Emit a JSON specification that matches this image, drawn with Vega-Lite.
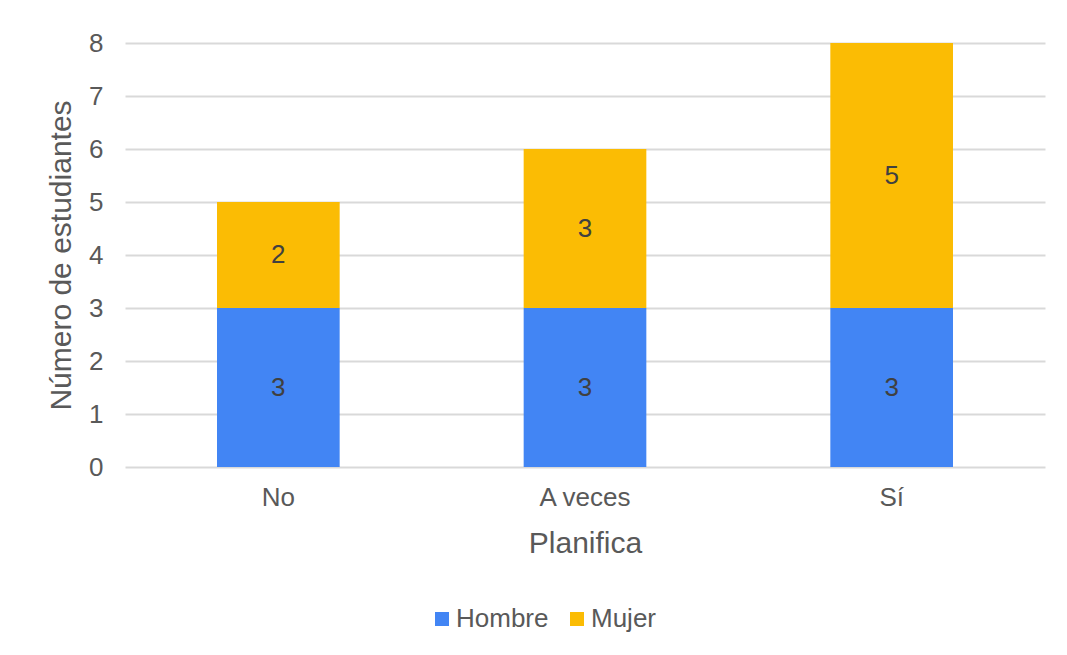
{
  "$schema": "https://vega.github.io/schema/vega-lite/v6.json",
  "autosize": "none",
  "width": 920,
  "height": 424,
  "padding": {"left": 125, "top": 43, "right": 22, "bottom": 188},
  "background": "white",
  "data": {
    "values": [
      {"planifica": "No", "sexo": "Hombre", "n": 3},
      {"planifica": "No", "sexo": "Mujer", "n": 2},
      {"planifica": "A veces", "sexo": "Hombre", "n": 3},
      {"planifica": "A veces", "sexo": "Mujer", "n": 3},
      {"planifica": "Sí", "sexo": "Hombre", "n": 3},
      {"planifica": "Sí", "sexo": "Mujer", "n": 5}
    ]
  },
  "encoding": {
    "x": {
      "field": "planifica",
      "type": "nominal",
      "sort": ["No", "A veces", "Sí"],
      "scale": {"paddingInner": 0.6, "paddingOuter": 0.3},
      "axis": {
        "title": "Planifica",
        "labelAngle": 0,
        "labelPadding": 17,
        "titlePadding": 18,
        "domain": false,
        "ticks": false
      }
    },
    "order": {"field": "sexo", "sort": "ascending"}
  },
  "layer": [
    {
      "mark": {"type": "bar"},
      "encoding": {
        "y": {
          "field": "n",
          "type": "quantitative",
          "stack": "zero",
          "scale": {"domain": [0, 8], "nice": false},
          "axis": {
            "title": "Número de estudiantes",
            "values": [0, 1, 2, 3, 4, 5, 6, 7, 8],
            "labelOverlap": false,
            "labelPadding": 22,
            "titlePadding": 12,
            "domain": false,
            "ticks": false
          }
        },
        "color": {
          "field": "sexo",
          "type": "nominal",
          "scale": {"domain": ["Hombre", "Mujer"], "range": ["#4285F4", "#FBBC04"]},
          "legend": {
            "title": null,
            "orient": "none",
            "direction": "horizontal",
            "legendX": 304,
            "legendY": 563,
            "symbolType": "square",
            "symbolSize": 196,
            "symbolStrokeWidth": 0,
            "labelOffset": 1,
            "columnPadding": 15,
            "padding": 0
          }
        }
      }
    },
    {
      "mark": {"type": "text", "fontSize": 26, "font": "Liberation Sans", "color": "#404040", "baseline": "middle"},
      "encoding": {
        "y": {
          "field": "n",
          "type": "quantitative",
          "stack": "zero",
          "bandPosition": 0.5,
          "scale": {"domain": [0, 8], "nice": false},
          "axis": {
            "title": "Número de estudiantes",
            "values": [0, 1, 2, 3, 4, 5, 6, 7, 8],
            "labelOverlap": false,
            "labelPadding": 22,
            "titlePadding": 12,
            "domain": false,
            "ticks": false
          }
        },
        "detail": {"field": "sexo"},
        "text": {"field": "n", "type": "quantitative"}
      }
    }
  ],
  "config": {
    "font": "Liberation Sans",
    "view": {"stroke": null},
    "axis": {
      "labelFont": "Liberation Sans",
      "labelFontSize": 26,
      "labelColor": "#595959",
      "titleFont": "Liberation Sans",
      "titleFontSize": 30,
      "titleFontWeight": "normal",
      "titleColor": "#595959",
      "gridColor": "#D9D9D9",
      "gridWidth": 2
    },
    "axisX": {"grid": false},
    "axisY": {"grid": true},
    "legend": {
      "labelFont": "Liberation Sans",
      "labelFontSize": 26,
      "labelColor": "#595959"
    }
  }
}
